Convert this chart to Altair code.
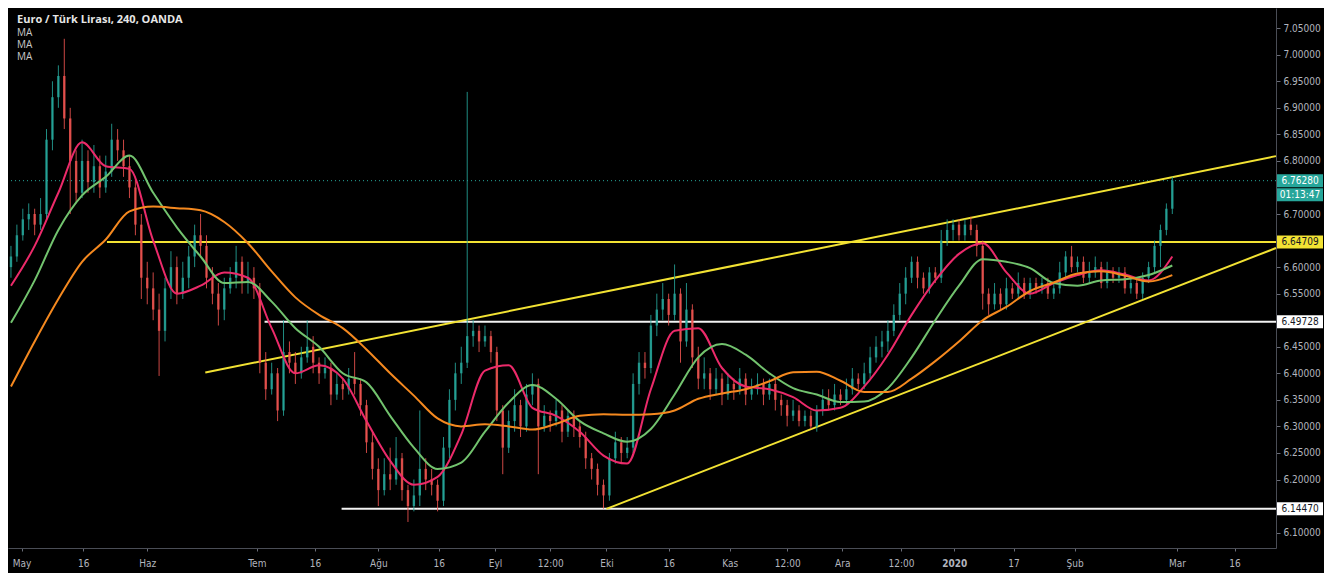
import json
import altair as alt
import pandas as pd

# ---------------- data ----------------
first_open = 6.60
closes = [
    6.62, 6.66, 6.69, 6.70, 6.68, 6.70, 6.84, 6.92, 6.96, 6.88,
    6.80, 6.74, 6.80, 6.76, 6.79, 6.75, 6.78, 6.84, 6.82, 6.79,
    6.75, 6.68, 6.58, 6.56, 6.52, 6.48, 6.56, 6.60, 6.55, 6.58,
    6.62, 6.66, 6.64, 6.58, 6.55, 6.52, 6.56, 6.58, 6.61, 6.57,
    6.58, 6.56, 6.42, 6.37, 6.40, 6.33, 6.44, 6.42, 6.40, 6.43,
    6.45, 6.42, 6.40, 6.41, 6.36, 6.38, 6.37, 6.39, 6.38, 6.34,
    6.27, 6.22, 6.18, 6.21, 6.20, 6.24, 6.18, 6.15, 6.17, 6.22,
    6.20, 6.19, 6.16, 6.26, 6.35, 6.40, 6.42, 6.47, 6.48, 6.46,
    6.47, 6.44, 6.33, 6.26, 6.31, 6.34, 6.30, 6.36, 6.38, 6.30,
    6.32, 6.31, 6.33, 6.29, 6.32, 6.30, 6.28, 6.24, 6.22, 6.19,
    6.17, 6.24, 6.27, 6.25, 6.26, 6.38, 6.42, 6.41, 6.49, 6.52,
    6.54, 6.51, 6.55, 6.46, 6.52, 6.43, 6.39, 6.40, 6.37, 6.39,
    6.36, 6.38, 6.37, 6.39, 6.36, 6.37, 6.38, 6.36, 6.38, 6.35,
    6.34, 6.32, 6.33, 6.31, 6.32, 6.30, 6.33, 6.35, 6.34, 6.36,
    6.35, 6.37, 6.39, 6.38, 6.40, 6.43, 6.45, 6.46, 6.48, 6.51,
    6.55, 6.58, 6.61, 6.58, 6.56, 6.59, 6.58, 6.65, 6.67, 6.68,
    6.66, 6.68, 6.67, 6.64, 6.55, 6.53, 6.55, 6.53, 6.56, 6.55,
    6.57, 6.55, 6.57, 6.56, 6.57, 6.55, 6.56, 6.59, 6.62, 6.60,
    6.61, 6.58, 6.59, 6.60, 6.57, 6.59, 6.58, 6.59, 6.56, 6.57,
    6.55, 6.58, 6.60, 6.64, 6.67, 6.71, 6.7628,
]
highs = [
    6.64, 6.68, 6.71, 6.72, 6.71, 6.73, 6.86, 6.95, 6.98, 7.03,
    6.90, 6.82, 6.84, 6.82, 6.83, 6.81, 6.81, 6.87, 6.86, 6.84,
    6.81, 6.77, 6.70, 6.61, 6.59, 6.55, 6.58, 6.63, 6.62, 6.61,
    6.64, 6.68, 6.70, 6.66, 6.60, 6.57, 6.58, 6.60, 6.64, 6.62,
    6.61, 6.60, 6.57, 6.44, 6.42, 6.41, 6.50, 6.46, 6.44, 6.45,
    6.50, 6.47, 6.43, 6.43, 6.42, 6.40, 6.39, 6.41, 6.44, 6.39,
    6.35, 6.29, 6.24, 6.24, 6.26, 6.28, 6.25, 6.19, 6.20, 6.33,
    6.24, 6.22, 6.20, 6.28, 6.37, 6.42, 6.45, 6.93, 6.50, 6.49,
    6.49, 6.48, 6.45, 6.34, 6.33, 6.37, 6.35, 6.38, 6.40, 6.39,
    6.34, 6.33, 6.35, 6.34, 6.33, 6.33, 6.31, 6.29, 6.25, 6.23,
    6.20, 6.25, 6.29, 6.28, 6.28, 6.40, 6.44, 6.44, 6.51, 6.55,
    6.57, 6.55, 6.605, 6.56, 6.57, 6.53, 6.45, 6.43, 6.41, 6.41,
    6.40, 6.40, 6.39, 6.41, 6.40, 6.39, 6.40, 6.39, 6.39, 6.39,
    6.36, 6.35, 6.35, 6.34, 6.33, 6.33, 6.34, 6.37, 6.37, 6.38,
    6.37, 6.39, 6.41, 6.40, 6.42, 6.45, 6.47, 6.48, 6.50, 6.53,
    6.57, 6.60, 6.62, 6.62, 6.59, 6.60, 6.60, 6.67, 6.69, 6.69,
    6.69, 6.69, 6.695, 6.68, 6.65, 6.56, 6.57, 6.56, 6.58, 6.57,
    6.59, 6.58, 6.58, 6.58, 6.58, 6.58, 6.57, 6.61, 6.63, 6.64,
    6.62, 6.62, 6.61, 6.62, 6.61, 6.61, 6.60, 6.60, 6.60, 6.58,
    6.58, 6.59, 6.61, 6.65, 6.68, 6.72, 6.77,
]
lows = [
    6.58, 6.61, 6.65, 6.67, 6.66, 6.67, 6.69, 6.82, 6.90, 6.86,
    6.70, 6.72, 6.73, 6.74, 6.74, 6.73, 6.74, 6.77, 6.80, 6.77,
    6.73, 6.66, 6.54, 6.53, 6.50, 6.395, 6.46, 6.54, 6.53, 6.54,
    6.56, 6.60, 6.62, 6.56, 6.53, 6.49, 6.50, 6.55, 6.56, 6.55,
    6.55, 6.54, 6.40, 6.35, 6.36, 6.31, 6.32, 6.40, 6.38, 6.39,
    6.42, 6.40, 6.38, 6.39, 6.34, 6.35, 6.35, 6.36, 6.36, 6.32,
    6.25, 6.20, 6.15, 6.17, 6.18, 6.19, 6.16, 6.12, 6.14, 6.15,
    6.18, 6.17, 6.14, 6.15, 6.24, 6.33, 6.38, 6.41, 6.45, 6.44,
    6.45, 6.42, 6.31, 6.21, 6.25, 6.29, 6.28, 6.29, 6.34, 6.21,
    6.29, 6.29, 6.30, 6.27, 6.28, 6.28, 6.26, 6.22, 6.20, 6.17,
    6.145, 6.16, 6.23, 6.23, 6.24, 6.25, 6.36, 6.39, 6.40, 6.47,
    6.50, 6.49, 6.50, 6.42, 6.45, 6.41, 6.37, 6.37, 6.35, 6.36,
    6.34, 6.35, 6.35, 6.36, 6.34, 6.35, 6.36, 6.34, 6.35, 6.33,
    6.32, 6.30, 6.31, 6.30, 6.30, 6.295, 6.29, 6.32, 6.33, 6.33,
    6.34, 6.34, 6.36, 6.37, 6.37, 6.39, 6.42, 6.43, 6.44, 6.47,
    6.50, 6.53, 6.57, 6.56, 6.55, 6.55, 6.57, 6.57, 6.64, 6.65,
    6.65, 6.65, 6.66, 6.62, 6.52, 6.51, 6.52, 6.52, 6.52, 6.54,
    6.54, 6.54, 6.54, 6.55, 6.55, 6.54, 6.54, 6.55, 6.58, 6.59,
    6.59, 6.57, 6.57, 6.58, 6.56, 6.56, 6.57, 6.57, 6.55, 6.55,
    6.54, 6.54, 6.57, 6.59, 6.60, 6.66, 6.70,
]

ma_bar = list(range(0, 197, 4))
ma_fast = [
    6.565, 6.64, 6.74, 6.835, 6.79, 6.785, 6.65, 6.55, 6.565, 6.59,
    6.58, 6.485, 6.40, 6.415, 6.39, 6.31, 6.235, 6.19, 6.205, 6.285,
    6.405, 6.415, 6.335, 6.32, 6.29, 6.245, 6.23, 6.37, 6.48, 6.485,
    6.41, 6.375, 6.37, 6.355, 6.33, 6.335, 6.375, 6.435, 6.51, 6.575,
    6.625, 6.645, 6.59, 6.55, 6.57, 6.585, 6.594, 6.586, 6.575, 6.62,
]
ma_mid = [
    6.495, 6.575, 6.67, 6.735, 6.77, 6.81, 6.74, 6.675, 6.62, 6.57,
    6.572, 6.535, 6.485, 6.45, 6.40, 6.383, 6.32, 6.26, 6.22, 6.232,
    6.29, 6.345, 6.378, 6.352, 6.31, 6.287, 6.271, 6.295, 6.36, 6.43,
    6.455, 6.435, 6.40, 6.372, 6.36, 6.346, 6.347, 6.372, 6.43, 6.50,
    6.565, 6.615, 6.61, 6.598, 6.57, 6.565, 6.575, 6.577, 6.585, 6.603,
]
ma_slow = [
    6.375, 6.46, 6.54, 6.61, 6.652, 6.705, 6.714, 6.711, 6.707, 6.685,
    6.645, 6.592, 6.543, 6.51, 6.485, 6.445, 6.40, 6.358, 6.315, 6.30,
    6.304, 6.30, 6.294, 6.305, 6.32, 6.323, 6.322, 6.323, 6.33, 6.352,
    6.362, 6.37, 6.385, 6.402, 6.403, 6.386, 6.365, 6.365, 6.39, 6.423,
    6.46, 6.50, 6.525, 6.555, 6.571, 6.588, 6.592, 6.584, 6.573, 6.585,
]
ma_colors = {"fast": "#ec2a6a", "mid": "#72c36e", "slow": "#f5891f"}

# drawings (bar index, price)
draw_x1 = [16.2, 42.8, 55.8, 32.8, 100.5]
draw_y1 = [6.64709, 6.49728, 6.14470, 6.4015, 6.1447]
draw_x2 = [213.5, 213.5, 213.5, 213.5, 213.5]
draw_y2 = [6.64709, 6.49728, 6.14470, 6.809, 6.636]
draw_col = ["#f2e233", "#f2f2f2", "#f2f2f2", "#f2e233", "#f2e233"]

box_price = [6.76280, 6.64709, 6.49728, 6.14470]
box_label = ["6.76280", "6.64709", "6.49728", "6.14470"]
box_fill = ["#26a69a", "#f2e233", "#ffffff", "#ffffff"]
box_text = ["#ffffff", "#131722", "#131722", "#131722"]
last_price = 6.7628
countdown = "01:13:47"

x_tick_pos = [1.8, 12.2, 23.0, 41.5, 51.3, 62.0, 72.2, 81.7, 91.0, 100.5,
              111.0, 121.3, 131.0, 140.3, 150.2, 159.2, 169.2, 179.5, 196.8, 206.5]
x_tick_lab = ["May", "16", "Haz", "Tem", "16", "Ağu", "16", "Eyl", "12:00", "Eki",
              "16", "Kas", "12:00", "Ara", "12:00", "2020", "17", "Şub", "Mar", "16"]
# price labels that are not hidden behind the drawing / last-price boxes
y_ticks = [6.10, 6.20, 6.25, 6.30, 6.35, 6.40, 6.45, 6.55, 6.60,
           6.70, 6.80, 6.85, 6.90, 6.95, 7.00, 7.05]

title_text = "Euro / Türk Lirası, 240, OANDA"
ma_labels = ["MA", "MA", "MA"]

# ---------------- build ----------------
assert len(closes) == len(highs) == len(lows)
opens = [first_open] + closes[:-1]
bars = pd.DataFrame({
    "bar": list(range(len(closes))),
    "open": opens, "high": highs, "low": lows, "close": closes,
})
bars["col"] = ["#26a69a" if c >= o else "#ef5350" for o, c in zip(opens, closes)]

ma_df = pd.concat([
    pd.DataFrame({"bar": ma_bar, "v": ma_fast, "s": "fast"}),
    pd.DataFrame({"bar": ma_bar, "v": ma_mid, "s": "mid"}),
    pd.DataFrame({"bar": ma_bar, "v": ma_slow, "s": "slow"}),
])
ma_df["col"] = ma_df["s"].map(ma_colors)
draw_df = pd.DataFrame({"x1": draw_x1, "y1": draw_y1, "x2": draw_x2, "y2": draw_y2, "c": draw_col})
box_df = pd.DataFrame({"p": box_price, "t": box_label, "f": box_fill, "tc": box_text})

W, H = 1268, 540
AXW, AXH = 48, 25
FONT = "Liberation Sans Narrow, DejaVu Sans Condensed, Roboto, sans-serif"
LBL = "#b2b5be"

xs = alt.Scale(domain=[-0.5, 213.5], nice=False, zero=False)
ys = alt.Scale(domain=[6.071, 7.088], nice=False, zero=False)

label_expr = "%s[indexof(%s, datum.value)]" % (json.dumps(x_tick_lab, ensure_ascii=False), json.dumps(x_tick_pos))
x_axis = alt.Axis(
    title=None, values=x_tick_pos, labelExpr=label_expr, grid=False,
    labelColor=LBL, labelFont=FONT, labelFontSize=10, tickColor="#6a6d78", tickSize=3,
    domainColor="#4a4d56", labelPadding=7, labelFlush=False, labelOverlap=False,
    labelFontWeight={"condition": {"test": "datum.value == 159.2", "value": "bold"}, "value": "normal"},
)
y_axis = alt.Axis(
    title=None, orient="right", values=y_ticks, format=".5f", grid=False,
    labelColor=LBL, labelFont=FONT, labelFontSize=10, tickColor="#6a6d78", tickSize=4,
    domainColor="#4a4d56", labelPadding=3, labelOverlap=False, labelFlush=False,
)

def X(f):
    return alt.X(f, type="quantitative", scale=xs, axis=x_axis)

def Y(f):
    return alt.Y(f, type="quantitative", scale=ys, axis=y_axis)

wicks = alt.Chart(bars).mark_rule(strokeWidth=1, opacity=0.85).encode(
    x=X("bar"), y=Y("low"), y2="high", color=alt.Color("col:N", scale=None))
bodies = alt.Chart(bars).mark_rule(strokeWidth=2.4, opacity=0.85).encode(
    x=X("bar"), y=Y("open"), y2="close", color=alt.Color("col:N", scale=None))

mas = alt.Chart(ma_df).mark_line(strokeWidth=2, interpolate="monotone").encode(
    x=X("bar"), y=Y("v"), color=alt.Color("col:N", scale=None), detail="s:N")

drawings = alt.Chart(draw_df).mark_rule(strokeWidth=2).encode(
    x=X("x1"), x2="x2", y=Y("y1"), y2="y2", color=alt.Color("c:N", scale=None))

last_line = alt.Chart(pd.DataFrame({"p": [last_price]})).mark_rule(
    strokeDash=[1, 3], strokeWidth=1, color="#26a69a").encode(y=Y("p"))

boxes = alt.Chart(box_df).mark_tick(orient="horizontal", size=46, thickness=13, opacity=1).encode(
    y=Y("p"), x=alt.value(W + 24), color=alt.Color("f:N", scale=None))
box_txt = alt.Chart(box_df).mark_text(align="center", baseline="middle", fontSize=10, font=FONT).encode(
    y=Y("p"), x=alt.value(W + 24), text="t:N", color=alt.Color("tc:N", scale=None))

cd_df = pd.DataFrame({"p": [last_price], "t": [countdown]})
cd_box = alt.Chart(cd_df).mark_tick(orient="horizontal", size=46, thickness=13, opacity=1,
                                    color="#26a69a", yOffset=14).encode(y=Y("p"), x=alt.value(W + 24))
cd_txt = alt.Chart(cd_df).mark_text(align="center", baseline="middle", fontSize=10, font=FONT,
                                    color="#ffffff", yOffset=14).encode(y=Y("p"), x=alt.value(W + 24), text="t:N")

title_layer = alt.Chart(pd.DataFrame({"t": [title_text]})).mark_text(
    align="left", baseline="middle", fontSize=11, font="Open Sans", fontWeight="bold", color="#e6e6e6"
).encode(x=alt.value(9), y=alt.value(12), text="t:N")
ma_layers = [
    alt.Chart(pd.DataFrame({"t": [lab]})).mark_text(
        align="left", baseline="middle", fontSize=10, font="Open Sans", color="#c8c8c8"
    ).encode(x=alt.value(9), y=alt.value(25 + 12 * i), text="t:N")
    for i, lab in enumerate(ma_labels)
]

chart = alt.layer(
    last_line, drawings, wicks, bodies, mas, boxes, box_txt, cd_box, cd_txt, title_layer, *ma_layers
).properties(
    width=W, height=H,
    autosize=alt.AutoSizeParams(type="none"),
    padding={"left": 0, "top": 0, "right": AXW, "bottom": AXH},
    background="#000000",
).configure_view(stroke=None)

chart.save("out.html", embed_options={"renderer": "svg", "actions": False})
